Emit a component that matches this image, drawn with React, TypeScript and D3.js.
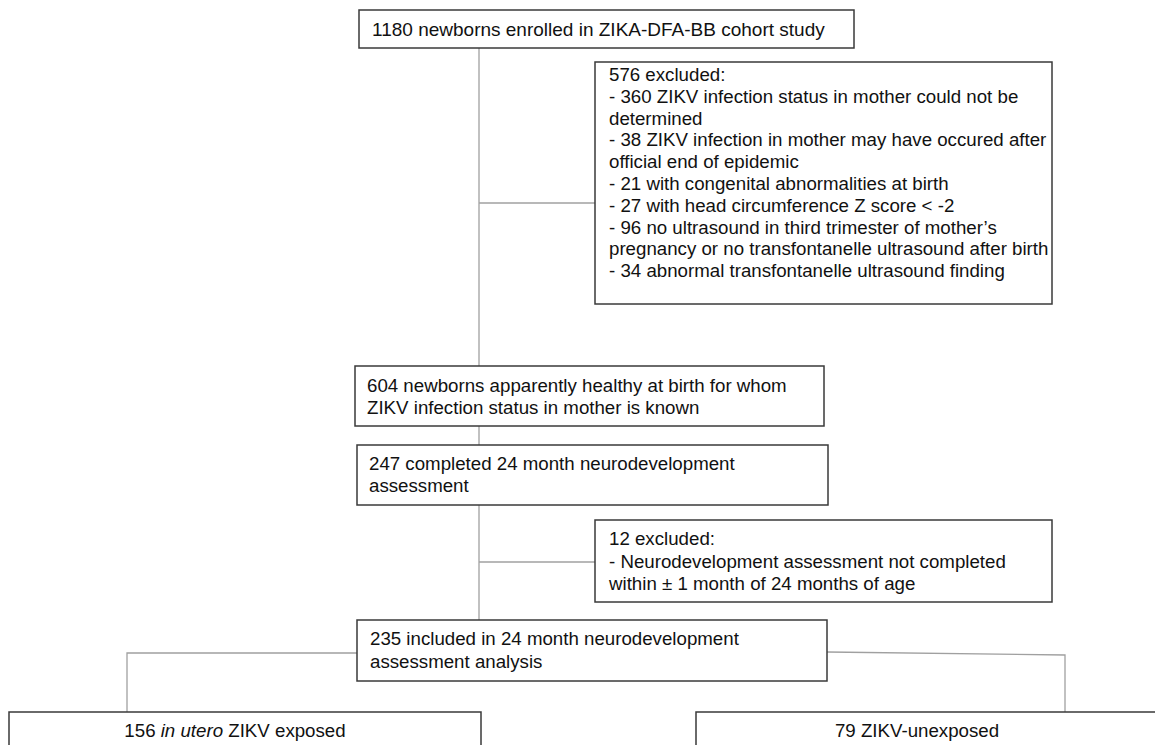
import React from "react";
import * as d3 from "d3";

// flowchart content
const topLines = ["1180 newborns enrolled in ZIKA-DFA-BB cohort study"];
const excludedLines = [
  "576 excluded:",
  "- 360 ZIKV infection status in mother could not be",
  "determined",
  "- 38 ZIKV infection in mother may have occured after",
  "official end of epidemic",
  "- 21 with congenital abnormalities at birth",
  "- 27 with head circumference Z score < -2",
  "- 96 no ultrasound in third trimester of mother\u2019s",
  "pregnancy or no transfontanelle ultrasound after birth",
  "- 34 abnormal transfontanelle ultrasound finding",
];
const healthyLines = [
  "604 newborns apparently healthy at birth for whom",
  "ZIKV infection status in mother is known",
];
const completedLines = ["247 completed 24 month neurodevelopment", "assessment"];
const excluded2Lines = [
  "12 excluded:",
  "- Neurodevelopment assessment not completed",
  "within \u00b1 1 month of 24 months of age",
];
const includedLines = ["235 included in 24 month neurodevelopment", "assessment analysis"];
const exposedLabel = ["156 ", "in utero", " ZIKV exposed"];
const unexposedLabel = "79 ZIKV-unexposed";

const W = 1155;
const H = 745;

const FONT = "'Liberation Sans', Arial, Helvetica, sans-serif";

type Box = { x: number; y: number; w: number; h: number };

const boxTop: Box = { x: 359, y: 10, w: 495, h: 38 };
const boxExcl: Box = { x: 595, y: 62, w: 457, h: 242 };
const boxHealthy: Box = { x: 355, y: 366, w: 469, h: 60 };
const boxCompleted: Box = { x: 357, y: 445, w: 471, h: 60 };
const boxExcl2: Box = { x: 595, y: 520, w: 457, h: 82 };
const boxIncluded: Box = { x: 357, y: 620, w: 470, h: 61 };
const boxLeft: Box = { x: 9, y: 712, w: 472, h: 60 };
const boxRight: Box = { x: 696, y: 712, w: 490, h: 60 };

const spineX = 479;
const leftDropX = 127;
const rightDropX = 1065;

function TextBox({
  b,
  lines,
  size,
  lh,
  firstBase,
  padX = 12,
}: {
  b: Box;
  lines: string[];
  size: number;
  lh: number;
  firstBase: number;
  padX?: number;
}) {
  return (
    <g>
      <rect x={b.x} y={b.y} width={b.w} height={b.h} fill="#fff" stroke="#3a3a3a" strokeWidth={1.5} />
      {lines.map((l, i) => (
        <text
          key={i}
          x={b.x + padX}
          y={b.y + firstBase + i * lh}
          fontFamily={FONT}
          fontSize={size}
          fill="#111"
        >
          {l}
        </text>
      ))}
    </g>
  );
}

export default function App() {
  const line = d3.line<[number, number]>();
  const conn = "#a0a0a0";

  const paths: [number, number][][] = [
    [[spineX, boxTop.y + boxTop.h], [spineX, boxHealthy.y]],
    [[spineX, 203], [boxExcl.x, 203]],
    [[spineX, boxHealthy.y + boxHealthy.h], [spineX, boxCompleted.y]],
    [[spineX, boxCompleted.y + boxCompleted.h], [spineX, boxIncluded.y]],
    [[spineX, 562], [boxExcl2.x, 562]],
    [[boxIncluded.x, 653], [leftDropX, 653], [leftDropX, boxLeft.y]],
    [[boxIncluded.x + boxIncluded.w, 652], [rightDropX, 655], [rightDropX, boxRight.y]],
  ];

  return (
    <svg
      width={W}
      height={H}
      style={{ position: "absolute", left: 0, top: 0, background: "#fff" }}
    >
      {paths.map((p, i) => (
        <path key={i} d={line(p) ?? ""} fill="none" stroke={conn} strokeWidth={1.3} />
      ))}
      <TextBox b={boxTop} lines={topLines} size={19} lh={20} firstBase={26} padX={13} />
      <TextBox b={boxExcl} lines={excludedLines} size={18.7} lh={21.8} firstBase={19} padX={14} />
      <TextBox b={boxHealthy} lines={healthyLines} size={18.7} lh={21.5} firstBase={26} />
      <TextBox b={boxCompleted} lines={completedLines} size={18.7} lh={22} firstBase={25} />
      <TextBox b={boxExcl2} lines={excluded2Lines} size={18.7} lh={22.5} firstBase={25} padX={14} />
      <TextBox b={boxIncluded} lines={includedLines} size={18.7} lh={23} firstBase={25} padX={13} />
      <rect x={boxLeft.x} y={boxLeft.y} width={boxLeft.w} height={boxLeft.h} fill="#fff" stroke="#3a3a3a" strokeWidth={1.5} />
      <text
        x={235}
        y={boxLeft.y + 25}
        textAnchor="middle"
        fontFamily={FONT}
        fontSize={18.7}
        fill="#111"
      >
        {exposedLabel[0]}
        <tspan fontStyle="italic">{exposedLabel[1]}</tspan>
        {exposedLabel[2]}
      </text>
      <rect x={boxRight.x} y={boxRight.y} width={boxRight.w} height={boxRight.h} fill="#fff" stroke="#3a3a3a" strokeWidth={1.5} />
      <text
        x={917}
        y={boxRight.y + 25}
        textAnchor="middle"
        fontFamily={FONT}
        fontSize={18.7}
        fill="#111"
      >
        {unexposedLabel}
      </text>
    </svg>
  );
}
